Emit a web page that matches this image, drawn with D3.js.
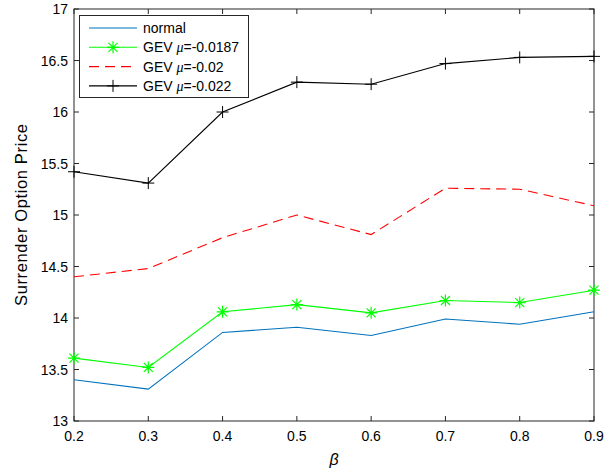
<!DOCTYPE html>
<html>
<head>
<meta charset="utf-8">
<script src="https://cdn.jsdelivr.net/npm/d3@7"></script>
<style>
  body { margin: 0; background: #fff; }
  text { font-family: "Liberation Sans", Arial, sans-serif; }
</style>
</head>
<body>
<div id="chart"></div>
<script>
// data
const betas = [0.2, 0.3, 0.4, 0.5, 0.6, 0.7, 0.8, 0.9];
const normal = [13.40, 13.31, 13.86, 13.91, 13.83, 13.99, 13.94, 14.06];
const gev0187 = [13.61, 13.52, 14.06, 14.13, 14.05, 14.17, 14.15, 14.27];
const gev020 = [14.40, 14.48, 14.78, 15.00, 14.81, 15.26, 15.25, 15.09];
const gev022 = [15.42, 15.31, 16.00, 16.29, 16.27, 16.47, 16.53, 16.54];
const xTicks = [0.2, 0.3, 0.4, 0.5, 0.6, 0.7, 0.8, 0.9];
const yTicks = [13, 13.5, 14, 14.5, 15, 15.5, 16, 16.5, 17];

const series = [
  {name: "normal", mu: null, values: normal, color: "#0072BD", dash: null, marker: null},
  {name: "GEV ", mu: "-0.0187", values: gev0187, color: "#00FF00", dash: null, marker: "star"},
  {name: "GEV ", mu: "-0.02", values: gev020, color: "#FF0000", dash: "10,6", marker: null},
  {name: "GEV ", mu: "-0.022", values: gev022, color: "#000000", dash: null, marker: "plus"}
];

const W = 613, H = 474;
const m = {left: 74, right: 19, top: 9, bottom: 53};
const svg = d3.select("#chart").append("svg").attr("width", W).attr("height", H);

const x = d3.scaleLinear().domain([0.2, 0.9]).range([m.left, W - m.right]);
const y = d3.scaleLinear().domain([13, 17]).range([H - m.bottom, m.top]);

const axisCol = "#262626";
const tl = 5;

// box
svg.append("rect")
  .attr("x", x(0.2)).attr("y", y(17))
  .attr("width", x(0.9) - x(0.2)).attr("height", y(13) - y(17))
  .attr("fill", "none").attr("stroke", axisCol).attr("stroke-width", 1);

// ticks inward on all sides
const tk = svg.append("g").attr("stroke", axisCol).attr("stroke-width", 1);
xTicks.forEach(t => {
  tk.append("line").attr("x1", x(t)).attr("x2", x(t)).attr("y1", y(13)).attr("y2", y(13) - tl);
  tk.append("line").attr("x1", x(t)).attr("x2", x(t)).attr("y1", y(17)).attr("y2", y(17) + tl);
});
yTicks.forEach(t => {
  tk.append("line").attr("x1", x(0.2)).attr("x2", x(0.2) + tl).attr("y1", y(t)).attr("y2", y(t));
  tk.append("line").attr("x1", x(0.9)).attr("x2", x(0.9) - tl).attr("y1", y(t)).attr("y2", y(t));
});

svg.append("g").selectAll("text").data(xTicks).join("text")
  .attr("x", d => x(d)).attr("y", y(13) + 20)
  .attr("text-anchor", "middle").attr("font-size", 14).attr("fill", "#000")
  .text(d => d3.format(".1f")(d));

svg.append("g").selectAll("text").data(yTicks).join("text")
  .attr("x", x(0.2) - 6).attr("y", d => y(d) + 5)
  .attr("text-anchor", "end").attr("font-size", 14).attr("fill", "#000")
  .text(d => d);

svg.append("text")
  .attr("x", (x(0.2) + x(0.9)) / 2).attr("y", 465)
  .attr("text-anchor", "middle").attr("font-size", 16)
  .attr("font-family", "'Liberation Serif', serif").attr("font-style", "italic")
  .text("β");

svg.append("text")
  .attr("transform", `translate(27,${(y(13) + y(17)) / 2}) rotate(-90)`)
  .attr("text-anchor", "middle").attr("font-size", 16.5)
  .attr("textLength", 182).attr("lengthAdjust", "spacing")
  .text("Surrender Option Price");

function drawMarker(g, type, cx, cy, color) {
  if (type === "plus") {
    g.append("path").attr("d", `M${cx - 6},${cy}H${cx + 6}M${cx},${cy - 6}V${cy + 6}`)
      .attr("stroke", color).attr("stroke-width", 1).attr("fill", "none");
  } else if (type === "star") {
    const r = 6;
    let d = `M${cx - r},${cy}H${cx + r}M${cx},${cy - r}V${cy + r}`;
    const k = r * 0.75;
    d += `M${cx - k},${cy - k}L${cx + k},${cy + k}M${cx - k},${cy + k}L${cx + k},${cy - k}`;
    g.append("path").attr("d", d).attr("stroke", color).attr("stroke-width", 1.2).attr("fill", "none");
  }
}

const line = d3.line().x((d, i) => x(betas[i])).y(d => y(d));
const plot = svg.append("g");
series.forEach(s => {
  plot.append("path").datum(s.values)
    .attr("d", line).attr("fill", "none")
    .attr("stroke", s.color).attr("stroke-width", 1.1)
    .attr("stroke-dasharray", s.dash);
  if (s.marker) s.values.forEach((v, i) => drawMarker(plot, s.marker, x(betas[i]), y(v), s.color));
});

// legend
const lg = svg.append("g");
lg.append("rect").attr("x", 79.5).attr("y", 15.5).attr("width", 169).attr("height", 82)
  .attr("fill", "#fff").attr("stroke", axisCol).attr("stroke-width", 1);
series.forEach((s, i) => {
  const ly = 28 + i * 19.3;
  lg.append("line").attr("x1", 89).attr("x2", 137).attr("y1", ly).attr("y2", ly)
    .attr("stroke", s.color).attr("stroke-width", 1.1).attr("stroke-dasharray", s.dash);
  if (s.marker) drawMarker(lg, s.marker, 113, ly, s.color);
  const t = lg.append("text").attr("x", 143).attr("y", ly + 5).attr("font-size", 14);
  t.append("tspan").text(s.name);
  if (s.mu) {
    t.append("tspan").attr("font-family", "'Liberation Serif', serif").attr("font-style", "italic").text("μ");
    t.append("tspan").text("=" + s.mu);
  }
});
</script>
</body>
</html>
